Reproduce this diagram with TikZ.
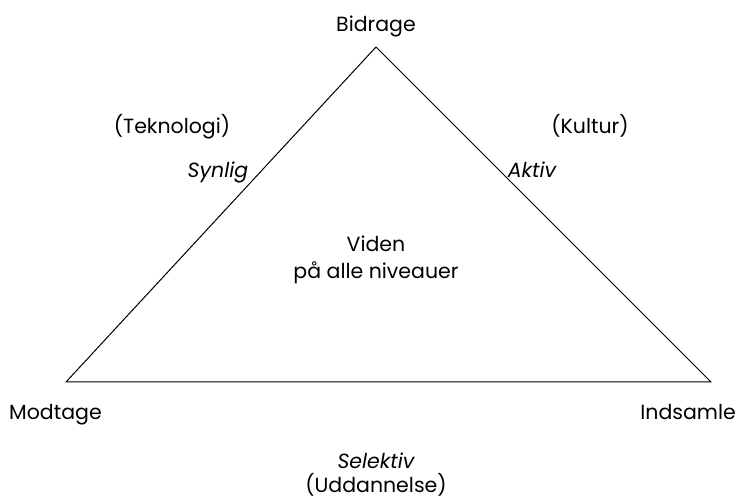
\documentclass[tikz,border=0pt]{standalone}
\usepackage{fontspec}
\setmainfont{Poppins}
\begin{document}
\begin{tikzpicture}[x=1pt, y=1pt,
    lbl/.style={anchor=base, inner sep=0pt, font=\fontsize{20.5}{24}\selectfont},
    ilbl/.style={lbl, font=\fontsize{20.5}{24}\selectfont\itshape}]
    \useasboundingbox (0,0) rectangle (738,502);
    % corners of the triangle
    \coordinate (top) at (376,455);
    \coordinate (left) at (66,120);
    \coordinate (right) at (711,120);
    \draw[line width=1pt, line join=miter] (top) -- (right) -- (left) -- cycle;
    % corner labels
    \node[lbl] (bidrage) at (376,470) {Bidrage};
    \node[lbl, anchor=base west] (modtage) at (9,82) {Modtage};
    \node[lbl, anchor=base east] (indsamle) at (736,82) {Indsamle};
    % side labels
    \node[lbl] (teknologi) at (172,368) {(Teknologi)};
    \node[ilbl] (synlig) at (218,324) {Synlig};
    \node[lbl] (kultur) at (590,368) {(Kultur)};
    \node[ilbl] (aktiv) at (532,324) {Aktiv};
    \node[ilbl] (selektiv) at (376,33) {Selektiv};
    \node[lbl] (uddannelse) at (376,9) {(Uddannelse)};
    % centre
    \node[lbl] (viden) at (376,250) {Viden};
    \node[lbl] (niveauer) at (376,223) {på alle niveauer};
\end{tikzpicture}
\end{document}
